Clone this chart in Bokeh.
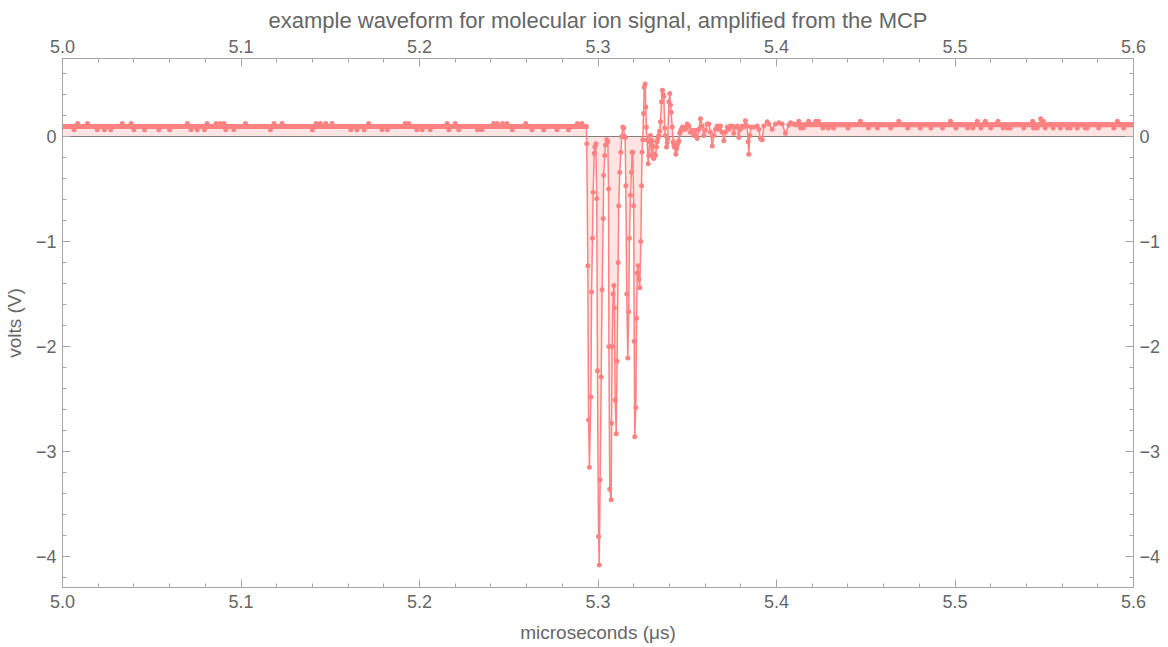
import numpy as np
from bokeh.plotting import figure
from bokeh.models import LinearAxis, FixedTicker, Range1d, Span, ColumnDataSource
from bokeh.embed import file_html
from bokeh.resources import INLINE

# ---------------- data ----------------
title_text = "example waveform for molecular ion signal, amplified from the MCP"
x_label = "microseconds (\u03bcs)"
y_label = "volts (V)"

x_ticks = [5.0, 5.1, 5.2, 5.3, 5.4, 5.5, 5.6]
x_tick_labels = ["5.0", "5.1", "5.2", "5.3", "5.4", "5.5", "5.6"]
x_minor = [5.0 + 0.02 * i for i in range(31)]
y_ticks = [0, -1, -2, -3, -4]
y_tick_labels = ["0", "\u22121", "\u22122", "\u22123", "\u22124"]
y_minor = [round(0.6 - 0.2 * i, 2) for i in range(25)]

sample_dt = 0.0005  # µs between samples

# early quiet baseline (5.000 .. 5.2935 µs)
early_start, early_end = 5.0, 5.2935
early_base, early_up, early_down = 0.095, 0.125, 0.065
early_up_t = [5.0084, 5.0140, 5.0336, 5.0383, 5.0700, 5.0812, 5.0859, 5.0887, 5.0906,
              5.1027, 5.1186, 5.1232, 5.1419, 5.1447, 5.1475, 5.1511, 5.1716, 5.1922,
              5.1940, 5.2155, 5.2202, 5.2416, 5.2435, 5.2463, 5.2491, 5.2594, 5.2883, 5.2911]
early_down_t = [5.0065, 5.0196, 5.0233, 5.0271, 5.0401, 5.0458, 5.0542, 5.0598, 5.0719,
                5.0756, 5.0794, 5.0915, 5.0962, 5.1167, 5.1401, 5.1613, 5.1651, 5.1688,
                5.1791, 5.1819, 5.1987, 5.2015, 5.2062, 5.2165, 5.2221, 5.2323, 5.2351,
                5.2519, 5.2631, 5.2696, 5.2771, 5.2836]

# ion signal pulse and ringing (µs, V)
pulse_t = [5.2937, 5.2943, 5.2947, 5.2952, 5.2960, 5.2964, 5.2969, 5.2973, 5.2979, 5.2982,
           5.2988, 5.2993, 5.2997, 5.3003, 5.3007, 5.3012, 5.3018, 5.3023, 5.3029, 5.3032,
           5.3038, 5.3042, 5.3049, 5.3055, 5.3059, 5.3061, 5.3066, 5.3074, 5.3076, 5.3079,
           5.3085, 5.3089, 5.3092, 5.3096, 5.3102, 5.3107, 5.3113, 5.3116, 5.3122, 5.3128,
           5.3133, 5.3139, 5.3144, 5.3148, 5.3152, 5.3156, 5.3161, 5.3167, 5.3172, 5.3176,
           5.3182, 5.3187, 5.3191, 5.3195, 5.3200, 5.3203, 5.3206, 5.3212, 5.3216, 5.3220,
           5.3225, 5.3229, 5.3234, 5.3240, 5.3244, 5.3247, 5.3251, 5.3255, 5.3259, 5.3264,
           5.3268, 5.3271, 5.3275, 5.3281, 5.3284, 5.3290, 5.3294, 5.3299, 5.3303, 5.3308,
           5.3312, 5.3317, 5.3322, 5.3328, 5.3331, 5.3336, 5.3340, 5.3345, 5.3350, 5.3356,
           5.3361, 5.3365, 5.3369, 5.3374, 5.3378, 5.3384, 5.3388, 5.3391, 5.3397, 5.3402,
           5.3406, 5.3410, 5.3416, 5.3421, 5.3425, 5.3428, 5.3436, 5.3440, 5.3443, 5.3448,
           5.3453, 5.3458, 5.3462, 5.3466, 5.3473, 5.3481, 5.3485, 5.3490, 5.3496, 5.3500,
           5.3509, 5.3518, 5.3528, 5.3537, 5.3546, 5.3556, 5.3565, 5.3574, 5.3584, 5.3593,
           5.3602, 5.3612, 5.3621, 5.3630, 5.3640, 5.3649, 5.3658, 5.3668, 5.3677, 5.3686,
           5.3696, 5.3705, 5.3714, 5.3724, 5.3733, 5.3742, 5.3752, 5.3761, 5.3770, 5.3780,
           5.3789, 5.3798, 5.3808, 5.3817, 5.3826, 5.3836, 5.3841, 5.3845, 5.3850, 5.3858,
           5.3873, 5.3892, 5.3901, 5.3910, 5.3920, 5.3929, 5.3948, 5.3957, 5.3976, 5.3994,
           5.4013, 5.4032, 5.4050, 5.4069, 5.4079, 5.4097]
pulse_v = [-0.07, -1.23, -2.70, -3.15, -2.48, -1.48, -0.97, -0.53, -0.16, -0.10,
           -0.07, -0.59, -2.23, -3.81, -4.08, -3.27, -2.29, -1.46, -0.78, -0.37,
           -0.18, -0.08, -0.03, -0.05, -0.50, -2.00, -3.36, -3.46, -2.73, -2.00,
           -1.50, -1.42, -1.63, -2.51, -2.83, -2.14, -1.20, -0.66, -0.34, -0.15,
           0.00, 0.09, 0.08, 0.00, -0.01, -0.47, -1.50, -2.11, -1.67, -0.97,
           -0.56, -0.34, -0.15, -0.15, -0.66, -1.95, -2.86, -2.58, -1.73, -1.30,
           -1.23, -1.36, -1.44, -1.00, -0.47, -0.15, -0.03, 0.22, 0.47, 0.50,
           0.28, 0.09, -0.03, -0.26, -0.18, -0.05, 0.01, -0.18, -0.04, -0.09,
           -0.21, -0.17, -0.18, -0.10, -0.05, -0.02, 0.01, 0.05, 0.14, 0.33,
           0.44, 0.40, 0.38, 0.08, 0.01, -0.10, -0.06, -0.02, 0.33, 0.41,
           0.30, 0.23, 0.09, -0.05, -0.08, -0.10, -0.17, -0.12, -0.09, -0.06,
           -0.04, 0.03, 0.05, 0.07, 0.09, 0.07, 0.08, 0.07, 0.09, 0.12,
           0.10, 0.04, 0.06, 0.01, 0.06, -0.02, 0.07, 0.17, 0.10, 0.01,
           0.06, 0.12, 0.12, 0.04, -0.09, 0.01, 0.07, 0.10, 0.07, 0.10,
           0.04, -0.04, 0.04, 0.09, 0.07, 0.10, 0.10, 0.03, 0.09, 0.10,
           -0.01, 0.07, 0.10, 0.09, 0.15, 0.10, -0.05, -0.17, 0.01, 0.09,
           0.09, 0.10, 0.07, -0.02, -0.03, 0.10, 0.14, 0.12, 0.07, 0.12,
           0.13, 0.12, 0.03, 0.11, 0.13, 0.12]

# late baseline (5.4105 .. 5.6 µs)
late_start, late_end = 5.4105, 5.6
late_base, late_up, late_down = 0.113, 0.145, 0.082
late_up_t = [5.4123, 5.4179, 5.4218, 5.4235, 5.4471, 5.4683, 5.4975, 5.5126, 5.5171,
             5.5238, 5.5434, 5.5479, 5.5496, 5.5910]
late_down_t = [5.4134, 5.4151, 5.4258, 5.4291, 5.4319, 5.4398, 5.4515, 5.4566, 5.4639,
               5.4734, 5.4807, 5.4863, 5.4930, 5.5003, 5.5070, 5.5098, 5.5143, 5.5199,
               5.5272, 5.5294, 5.5311, 5.5384, 5.5440, 5.5462, 5.5507, 5.5552, 5.5591,
               5.5630, 5.5647, 5.5686, 5.5731, 5.5742, 5.5804, 5.5888, 5.5944]
late_spike_t = [5.5479]
late_spike_v = [0.17]

# ---------------- assemble samples ----------------
def baseline(t0, t1, base, up, down, up_t, down_t):
    n = int(round((t1 - t0) / sample_dt)) + 1
    t = t0 + sample_dt * np.arange(n)
    v = np.full(n, base)
    for tt in up_t:
        v[int(round((tt - t0) / sample_dt))] = up
    for tt in down_t:
        v[int(round((tt - t0) / sample_dt))] = down
    return t, v

et, ev = baseline(early_start, early_end, early_base, early_up, early_down, early_up_t, early_down_t)
lt, lv = baseline(late_start, late_end, late_base, late_up, late_down, late_up_t, late_down_t)
for tt, vv in zip(late_spike_t, late_spike_v):
    lv[int(round((tt - late_start) / sample_dt))] = vv

t_all = np.concatenate([et, np.array(pulse_t), lt])
v_all = np.concatenate([ev, np.array(pulse_v), lv])
src = ColumnDataSource(dict(t=t_all, v=v_all, z=np.zeros_like(v_all)))

# ---------------- figure ----------------
RED = "#ff8282"
GRAY = "#a6a6a6"
LABEL = "#666666"
FONT = "Liberation Sans"

p = figure(width=1168, height=647, output_backend="svg", toolbar_location=None,
           x_range=Range1d(5.0, 5.6), y_range=Range1d(-4.295, 0.743),
           x_axis_location=None, y_axis_location=None,
           min_border_left=62, min_border_right=35, min_border_top=58, min_border_bottom=60)
p.grid.visible = False
p.outline_line_color = GRAY
p.outline_line_width = 1
p.background_fill_color = "white"
p.border_fill_color = "white"

p.title.text = title_text
p.title.align = "center"
p.title.text_font = FONT
p.title.text_font_size = "22px"
p.title.text_font_style = "normal"
p.title.text_color = LABEL
p.title.standoff = 8

p.add_layout(Span(location=0, dimension="width", line_color="#7a7a7a", line_width=1,
                  level="underlay"))

p.varea(x="t", y1="z", y2="v", source=src, fill_color=RED, fill_alpha=0.22)
p.line(x="t", y="v", source=src, line_color=RED, line_width=1.5)
p.scatter(x="t", y="v", source=src, size=5, fill_color=RED, line_color=None)


def make_axis(ticks, labels, minor, standoff, label=None, label_standoff=0):
    ax = LinearAxis()
    ax.ticker = FixedTicker(ticks=ticks, minor_ticks=minor)
    ax.major_label_overrides = {t: l for t, l in zip(ticks, labels)}
    ax.major_tick_in = 8
    ax.major_tick_out = 0
    ax.minor_tick_in = 4
    ax.minor_tick_out = 0
    ax.axis_line_color = GRAY
    ax.major_tick_line_color = GRAY
    ax.minor_tick_line_color = GRAY
    ax.major_label_text_font = FONT
    ax.major_label_text_font_size = "18px"
    ax.major_label_text_color = LABEL
    ax.major_label_standoff = standoff
    if label:
        ax.axis_label = label
        ax.axis_label_text_font = FONT
        ax.axis_label_text_font_size = "19px"
        ax.axis_label_text_font_style = "normal"
        ax.axis_label_text_color = LABEL
        ax.axis_label_standoff = label_standoff
    return ax

p.add_layout(make_axis(x_ticks, x_tick_labels, x_minor, 7, x_label, 11), "below")
p.add_layout(make_axis(x_ticks, x_tick_labels, x_minor, 6), "above")
p.add_layout(make_axis(y_ticks, y_tick_labels, y_minor, 6, y_label, 8), "left")
p.add_layout(make_axis(y_ticks, y_tick_labels, y_minor, 6), "right")

open("out.html", "w").write(file_html(p, INLINE))
